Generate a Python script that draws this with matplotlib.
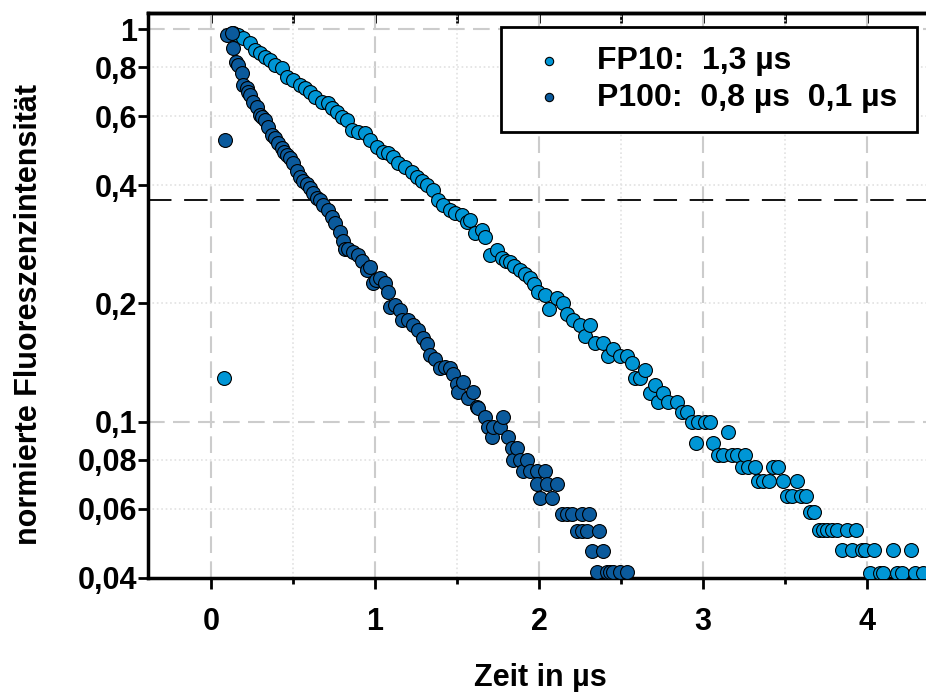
import numpy as np
import matplotlib
matplotlib.use("Agg")
from matplotlib import pyplot as plt
from matplotlib.ticker import FixedLocator, FixedFormatter

plt.rcParams['font.family'] = ['Liberation Sans', 'DejaVu Sans']
plt.rcParams['font.weight'] = 'bold'

# FP10 decay (normalised fluorescence vs. time in us)
fp10_t = [0.079, 0.136, 0.166, 0.197, 0.238, 0.268, 0.299, 0.329, 0.360, 0.390, 0.431,
          0.462, 0.502, 0.543, 0.573, 0.604, 0.634, 0.675, 0.715, 0.736, 0.766, 0.797,
          0.827, 0.858, 0.898, 0.939, 0.970, 1.010, 1.051, 1.081, 1.112, 1.142, 1.183,
          1.224, 1.254, 1.285, 1.315, 1.356, 1.386, 1.415, 1.457, 1.488, 1.530, 1.561,
          1.579, 1.610, 1.652, 1.671, 1.701, 1.744, 1.774, 1.800, 1.823, 1.850, 1.884,
          1.915, 1.945, 1.970, 1.994, 2.037, 2.060, 2.110, 2.146, 2.171, 2.207, 2.250,
          2.280, 2.311, 2.341, 2.390, 2.421, 2.451, 2.494, 2.537, 2.567, 2.585, 2.616,
          2.646, 2.677, 2.707, 2.726, 2.756, 2.787, 2.841, 2.872, 2.902, 2.933, 2.957,
          2.970, 3.012, 3.043, 3.061, 3.091, 3.122, 3.152, 3.177, 3.207, 3.238, 3.256,
          3.274, 3.317, 3.335, 3.366, 3.402, 3.427, 3.457, 3.488, 3.512, 3.543, 3.573,
          3.598, 3.628, 3.652, 3.677, 3.707, 3.732, 3.756, 3.787, 3.817, 3.848, 3.878,
          3.909, 3.933, 3.970, 3.988, 4.018, 4.043, 4.079, 4.098, 4.159, 4.183, 4.213,
          4.268, 4.293, 4.341]
fp10_i = [0.129, 0.975, 0.965, 0.947, 0.920, 0.884, 0.867, 0.850, 0.834, 0.810, 0.794,
          0.756, 0.742, 0.720, 0.706, 0.692, 0.672, 0.653, 0.647, 0.628, 0.616, 0.598,
          0.587, 0.553, 0.548, 0.543, 0.522, 0.502, 0.487, 0.483, 0.473, 0.455, 0.446,
          0.433, 0.421, 0.409, 0.401, 0.389, 0.367, 0.356, 0.346, 0.340, 0.336, 0.323,
          0.326, 0.302, 0.308, 0.295, 0.266, 0.274, 0.261, 0.257, 0.255, 0.249, 0.243,
          0.238, 0.232, 0.224, 0.214, 0.210, 0.194, 0.206, 0.200, 0.188, 0.182, 0.176,
          0.165, 0.176, 0.159, 0.159, 0.147, 0.153, 0.147, 0.147, 0.141, 0.129, 0.129,
          0.135, 0.118, 0.124, 0.112, 0.118, 0.112, 0.112, 0.106, 0.106, 0.100, 0.0882,
          0.100, 0.100, 0.100, 0.0882, 0.0824, 0.0824, 0.0941, 0.0824, 0.0824, 0.0765, 0.0824,
          0.0765, 0.0765, 0.0706, 0.0706, 0.0706, 0.0765, 0.0765, 0.0706, 0.0647, 0.0647, 0.0706,
          0.0647, 0.0647, 0.0588, 0.0588, 0.0529, 0.0529, 0.0529, 0.0529, 0.0529, 0.0471, 0.0529,
          0.0471, 0.0529, 0.0471, 0.0471, 0.0412, 0.0471, 0.0412, 0.0412, 0.0471, 0.0412, 0.0412,
          0.0471, 0.0412, 0.0412]

# P100 decay
p100_t = [0.085, 0.099, 0.126, 0.136, 0.152, 0.166, 0.187, 0.197, 0.218, 0.227, 0.238,
          0.258, 0.279, 0.299, 0.311, 0.329, 0.349, 0.370, 0.390, 0.410, 0.431, 0.445,
          0.462, 0.482, 0.502, 0.523, 0.543, 0.563, 0.584, 0.604, 0.624, 0.645, 0.665,
          0.685, 0.715, 0.736, 0.756, 0.787, 0.807, 0.817, 0.837, 0.868, 0.898, 0.919,
          0.949, 0.970, 0.990, 1.006, 1.030, 1.061, 1.081, 1.091, 1.122, 1.152, 1.163,
          1.203, 1.234, 1.264, 1.295, 1.315, 1.335, 1.366, 1.396, 1.427, 1.457, 1.477,
          1.498, 1.508, 1.538, 1.569, 1.599, 1.620, 1.630, 1.671, 1.691, 1.712, 1.721,
          1.762, 1.782, 1.813, 1.834, 1.843, 1.864, 1.884, 1.904, 1.925, 1.945, 1.985,
          1.990, 2.006, 2.037, 2.047, 2.077, 2.108, 2.138, 2.169, 2.199, 2.230, 2.260,
          2.262, 2.291, 2.307, 2.321, 2.352, 2.368, 2.392, 2.413, 2.433, 2.453, 2.494,
          2.535]
p100_i = [0.521, 0.965, 0.975, 0.893, 0.826, 0.810, 0.771, 0.720, 0.706, 0.692, 0.679,
          0.653, 0.633, 0.604, 0.597, 0.587, 0.564, 0.537, 0.527, 0.512, 0.497, 0.486,
          0.478, 0.469, 0.455, 0.435, 0.421, 0.409, 0.403, 0.393, 0.382, 0.371, 0.367,
          0.356, 0.346, 0.333, 0.320, 0.305, 0.289, 0.276, 0.276, 0.271, 0.266, 0.256,
          0.243, 0.248, 0.225, 0.230, 0.232, 0.225, 0.214, 0.196, 0.198, 0.193, 0.182,
          0.182, 0.176, 0.171, 0.163, 0.158, 0.148, 0.144, 0.137, 0.138, 0.137, 0.132,
          0.125, 0.119, 0.126, 0.115, 0.119, 0.109, 0.108, 0.103, 0.0971, 0.0916, 0.0971,
          0.0971, 0.103, 0.0916, 0.0855, 0.0799, 0.0855, 0.0799, 0.0750, 0.0799, 0.0750, 0.0750,
          0.0693, 0.0638, 0.0750, 0.0693, 0.0638, 0.0693, 0.0581, 0.0581, 0.0581, 0.0525, 0.0581,
          0.0525, 0.0525, 0.0581, 0.0469, 0.0415, 0.0525, 0.0469, 0.0415, 0.0415, 0.0415, 0.0415,
          0.0415]

series_labels = ["FP10:  1,3 µs", "P100:  0,8 µs  0,1 µs"]
series_colors = ["#0096d6", "#0b5a9c"]

y_major = [0.1, 1]
y_minor = [0.04, 0.06, 0.08, 0.2, 0.4, 0.6, 0.8]
y_minor_labels = ["0,04", "0,06", "0,08", "0,2", "0,4", "0,6", "0,8"]
y_major_labels = ["0,1", "1"]
one_over_e = 0.3679

FONT = 22

fig = plt.figure(figsize=(9.26, 6.92), dpi=100)
ax = fig.add_axes([0.160, 0.165, 0.840, 0.816])

ax.scatter(fp10_t, fp10_i, s=100, color=series_colors[0], edgecolors="black",
           linewidths=0.8, label=series_labels[0], zorder=3)
ax.scatter(p100_t, p100_i, s=100, color=series_colors[1], edgecolors="black",
           linewidths=0.8, label=series_labels[1], zorder=4)

ax.axhline(one_over_e, color="black", lw=1.3, dashes=(13, 7), zorder=2)

ax.set_yscale("log")
ax.set_xlim(-0.384, 4.36)
ax.set_ylim(0.04, 1.098)

ax.xaxis.set_major_locator(FixedLocator([0, 1, 2, 3, 4]))
ax.xaxis.set_minor_locator(FixedLocator([-0.5, 0.5, 1.5, 2.5, 3.5]))
ax.yaxis.set_major_locator(FixedLocator(y_major))
ax.yaxis.set_major_formatter(FixedFormatter(y_major_labels))
ax.yaxis.set_minor_locator(FixedLocator(y_minor))
ax.yaxis.set_minor_formatter(FixedFormatter(y_minor_labels))

ax.grid(which="major", color="#cccccc", lw=1.5, dashes=(8, 4), zorder=0)
ax.grid(which="minor", color="#e2e2e2", lw=1.2, linestyle=":", zorder=0)
ax.set_axisbelow(True)

ax.tick_params(axis="x", which="major", direction="out", length=8, width=2,
               labelsize=FONT, pad=13)
ax.tick_params(axis="x", which="minor", direction="out", length=4, width=2)
ax.tick_params(axis="y", which="both", direction="out", length=7, width=2,
               labelsize=FONT, pad=1)

top = ax.secondary_xaxis("top")
top.set_xticks([-0.5, 0, 0.5, 1, 1.5, 2, 2.5, 3, 3.5, 4])
top.tick_params(direction="in", length=7, width=2, labeltop=False)
top.spines["top"].set_linewidth(2.5)

for side in ("left", "bottom", "top"):
    ax.spines[side].set_linewidth(2.5)
ax.spines["right"].set_visible(False)

ax.set_xlabel("Zeit in µs", fontsize=FONT, fontweight="bold")
ax.xaxis.set_label_coords(0.504, -0.151)
ax.set_ylabel("normierte Fluoreszenzintensität", fontsize=FONT, fontweight="bold")
ax.yaxis.set_label_coords(-0.134, 0.467)

leg = ax.legend(loc="upper right", bbox_to_anchor=(0.988, 0.975), fontsize=23,
                markerscale=0.6, frameon=True, fancybox=False, framealpha=1,
                edgecolor="black", handlelength=1.8, handletextpad=0.62,
                borderpad=0.6, borderaxespad=0, labelspacing=0.2)
leg.get_frame().set_linewidth(2)
for t in leg.get_texts():
    t.set_fontweight("bold")

fig.savefig("out.png", dpi=100)
